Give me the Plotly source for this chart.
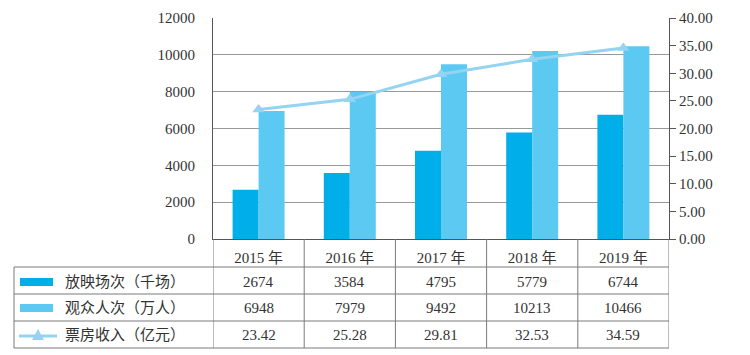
import plotly.graph_objects as go

years = ["2015 年", "2016 年", "2017 年", "2018 年", "2019 年"]
screenings = [2674, 3584, 4795, 5779, 6744]          # 放映场次（千场）
audience = [6948, 7979, 9492, 10213, 10466]          # 观众人次（万人）
box_office = [23.42, 25.28, 29.81, 32.53, 34.59]     # 票房收入（亿元）
row_names = ["放映场次（千场）", "观众人次（万人）", "票房收入（亿元）"]

# page body has an 8px margin; figure sized to fill the rest of the 750x355 window
OFF = 8
W, H = 750 - OFF, 355 - OFF
def px(x): return (x - OFF) / W
def py(y): return (H - (y - OFF)) / H

C_DARK = "#00AEEA"
C_LIGHT = "#5CC9F2"
C_LINE = "#94D3F1"
GRID = "#999999"
TXT = "#333333"
FONT = "Liberation Serif, Noto Sans CJK SC, serif"

x_idx = list(range(len(years)))

fig = go.Figure()
fig.add_bar(x=x_idx, y=screenings, marker_color=C_DARK, name=row_names[0])
fig.add_bar(x=x_idx, y=audience, marker_color=C_LIGHT, name=row_names[1])
fig.add_scatter(x=x_idx, y=box_office, yaxis="y2", mode="lines+markers",
                line=dict(color=C_LINE, width=3),
                marker=dict(symbol="triangle-up", size=11, color=C_LINE),
                name=row_names[2])

x0p, x1p = 213, 669
ytop, ybot = 18, 239

fig.update_layout(
    width=W, height=H, template="none",
    margin=dict(l=0, r=0, t=0, b=0),
    paper_bgcolor="white", plot_bgcolor="white",
    showlegend=False, barmode="group", bargap=0.43, bargroupgap=0,
    font=dict(family=FONT, size=15, color=TXT),
    xaxis=dict(domain=[px(x0p), px(x1p)], range=[-0.5, 4.5],
               tickvals=x_idx, ticktext=years, showgrid=False,
               showline=True, linecolor="#555", linewidth=1,
               ticks="outside", ticklen=5, tickcolor="rgba(0,0,0,0)",
               tickfont=dict(size=15, color=TXT), automargin=False, zeroline=False),
    yaxis=dict(domain=[py(ybot), py(ytop)], range=[0, 12000], dtick=2000,
               tickformat="d",
               showgrid=True, gridcolor=GRID, gridwidth=1,
               showline=True, linecolor="#555", linewidth=1,
               ticks="outside", ticklen=14, tickcolor="rgba(0,0,0,0)",
               tickfont=dict(size=15, color=TXT), automargin=False, zeroline=False),
    yaxis2=dict(overlaying="y", side="right", anchor="x", range=[0, 40], dtick=5,
                tickformat=".2f", showgrid=False, showline=True, linecolor="#555",
                linewidth=1, ticks="outside", ticklen=6, tickcolor="#555",
                tickfont=dict(size=15, color=TXT), automargin=False, zeroline=False),
)

# table geometry
row_lines = [267, 294, 321, 348]
row_centers = [282, 308, 335]
tl = 14
shapes = []
LC = "#7a7a7a"
for yl in row_lines:
    shapes.append(dict(type="line", xref="paper", yref="paper", x0=px(tl), x1=px(x1p),
                       y0=py(yl), y1=py(yl), line=dict(color=LC, width=1)))
shapes.append(dict(type="line", xref="paper", yref="paper", x0=px(tl), x1=px(tl),
                   y0=py(row_lines[0]), y1=py(row_lines[-1]), line=dict(color=LC, width=1)))
for b in [i - 0.5 for i in range(len(years) + 1)]:
    shapes.append(dict(type="line", xref="x", yref="paper", x0=b, x1=b,
                       y0=py(ybot), y1=py(row_lines[-1]), line=dict(color=LC, width=1)))

# legend glyphs inside table
shapes.append(dict(type="rect", xref="paper", yref="paper", x0=px(20), x1=px(53),
                   y0=py(row_centers[0] - 4), y1=py(row_centers[0] + 4),
                   fillcolor=C_DARK, line=dict(width=0)))
shapes.append(dict(type="rect", xref="paper", yref="paper", x0=px(20), x1=px(53),
                   y0=py(row_centers[1] - 4), y1=py(row_centers[1] + 4),
                   fillcolor=C_LIGHT, line=dict(width=0)))
shapes.append(dict(type="line", xref="paper", yref="paper", x0=px(19), x1=px(57),
                   y0=py(row_centers[2] + 1), y1=py(row_centers[2] + 1),
                   line=dict(color=C_LINE, width=3)))
cx, cy = 38, row_centers[2] + 1
shapes.append(dict(type="path", xref="paper", yref="paper",
                   path=f"M {px(cx-6)},{py(cy+4)} L {px(cx+6)},{py(cy+4)} L {px(cx)},{py(cy-7)} Z",
                   fillcolor=C_LINE, line=dict(width=0)))
fig.update_layout(shapes=shapes)

annots = []
for name, yc in zip(row_names, row_centers):
    annots.append(dict(xref="paper", yref="paper", x=px(63), y=py(yc), text=name,
                       showarrow=False, xanchor="left", yanchor="middle",
                       font=dict(size=15, color=TXT)))
for series, yc, fmt in [(screenings, row_centers[0], "{:d}"),
                        (audience, row_centers[1], "{:d}"),
                        (box_office, row_centers[2], "{:.2f}")]:
    for i, v in enumerate(series):
        annots.append(dict(xref="x", yref="paper", x=i, y=py(yc), text=fmt.format(v),
                           showarrow=False, xanchor="center", yanchor="middle",
                           font=dict(size=15, color=TXT)))
fig.update_layout(annotations=annots)

fig.write_html("out.html")
